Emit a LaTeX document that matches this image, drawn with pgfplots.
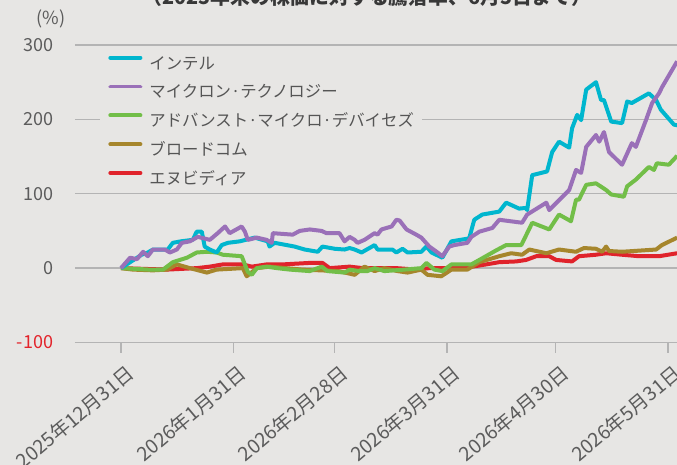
\documentclass[border=0pt]{standalone}
\usepackage{fontspec}
\setmainfont{Noto Sans CJK JP}
\usepackage{pgfplots}
\pgfplotsset{compat=1.18}
\definecolor{bg}{HTML}{E7E6E4}
\definecolor{gridc}{HTML}{B4B4B4}
\definecolor{labgray}{HTML}{5C5C5C}
\definecolor{leggray}{HTML}{555555}
\definecolor{negred}{HTML}{E3242B}
\definecolor{cIntel}{HTML}{00B6CE}
\definecolor{cMicron}{HTML}{9A70B8}
\definecolor{cAMD}{HTML}{72BE48}
\definecolor{cAvgo}{HTML}{A6862C}
\definecolor{cNvda}{HTML}{E0232B}
\begin{document}
\begin{tikzpicture}
\useasboundingbox[fill=bg] (-37.5pt,-61.25pt) rectangle (301pt,171.25pt);
\node[anchor=base, font=\fontsize{9.9}{11}\selectfont\bfseries, text=black!78, inner sep=0pt] at (146pt,169pt) {（2025年末の株価に対する騰落率、6月5日まで）};
\node[font=\fontsize{9}{10}\selectfont, text=labgray, inner sep=0pt] at (-12pt,161.75pt) {(\%)};
\begin{axis}[
  at={(0,0)}, anchor=south west, scale only axis,
  width=301pt, height=148.75pt,
  xmin=-12.7, xmax=153.46, ymin=-100, ymax=300,
  axis lines*=left,
  y axis line style={draw=none},
  x axis line style={draw=gridc, line width=0.7pt},
  ymajorgrids, grid style={gridc, line width=0.7pt},
  ytick={-100,0,100,200,300},
  yticklabels={\textcolor{negred}{-100},0,100,200,300},
  ytick style={draw=none},
  xtick={0,31,59,90,120,151},
  xticklabels={2025年12月31日,2026年1月31日,2026年2月28日,2026年3月31日,2026年4月30日,2026年5月31日},
  xtick style={draw=gridc, line width=0.7pt},
  tick align=outside, major tick length=5.25pt,
  yticklabel style={font=\fontsize{9}{10}\selectfont, text=labgray, inner sep=0pt, anchor=east, xshift=-5.5pt},
  xticklabel style={font=\fontsize{9.8}{11}\selectfont, text=labgray, inner sep=0pt, xshift=2pt, yshift=-5pt, rotate=40, anchor=north east},
  legend style={at={(0.0415,0.985)}, anchor=north west, draw=none, fill=bg,
    inner xsep=4pt, inner ysep=3pt, font=\fontsize{8.2}{9}\selectfont, text=leggray,
    row sep=6.25pt, column sep=3.5pt,
    nodes={inner sep=0pt, text height=6.5pt, text depth=1.5pt}},
  legend cell align=left,
  legend image code/.code={\draw[#1, line width=1.9pt, line cap=round] (0.95pt,3.2pt) -- (16.05pt,3.2pt);},
  every axis plot/.append style={line width=2pt, line join=round},
]
\addlegendimage{cIntel}\addlegendentry{インテル}
\addlegendimage{cMicron}\addlegendentry{マイクロン·テクノロジー}
\addlegendimage{cAMD}\addlegendentry{アドバンスト·マイクロ·デバイセズ}
\addlegendimage{cAvgo}\addlegendentry{ブロードコム}
\addlegendimage{cNvda}\addlegendentry{エヌビディア}
% Nvidia
\addplot[cNvda, forget plot] coordinates {(0,0)(12.7,-2)(20.9,0)(24.5,2)(28.1,5)(33.6,5)(36.1,2)(40.2,5)(44.6,5)(52.1,7)(55.6,7)(57.6,0)(63.1,2)(66.7,0)(76,0)(81.5,-2)(85.1,0)(92.6,0)(97,2)(100.8,5)(104.4,8)(109.1,9)(111.8,11)(114.6,16)(118.2,16)(120.1,11)(124.5,9)(126.4,16)(131.1,18)(133.9,20)(138.3,18)(143,16)(148.5,16)(153.5,20)};
% Broadcom
\addplot[cAvgo, forget plot] coordinates {(0,0)(3.3,-2)(8.8,-3)(12.7,-2)(15.4,5)(19,0)(23.7,-6)(26.4,-2)(33.6,0)(34.7,-11)(37.5,0)(41,2)(50,-2)(60,-4)(64.5,-9)(67.2,2)(70,-4)(72.7,0)(76.3,-4)(79.1,-6)(82.9,-2)(84.6,-9)(88.4,-11)(91.2,-2)(95.6,-2)(98.9,8)(104.4,16)(107.7,20)(110.7,18)(112.7,25)(117.4,20)(120.9,25)(125.6,22)(127.8,27)(131.1,26)(132.8,22)(133.9,29)(134.7,23)(138.3,22)(147.7,25)(149.3,31)(153.5,41)};
% AMD
\addplot[cAMD, forget plot] coordinates {(0,0)(8,-2)(11.6,-2)(14.3,8)(18.2,14)(20.9,21)(23.7,22)(26.4,21)(28.1,18)(33.3,16)(35,-5)(36.1,-9)(37.5,0)(40.2,2)(43,0)(46.6,-2)(52.1,-4)(55.4,2)(57,-4)(61.7,-6)(63.1,-2)(65.8,-4)(68,-4)(70,0)(72.7,-4)(78.2,-2)(82.9,0)(84.3,7)(86.5,-2)(88.7,-4)(91.2,5)(96.7,5)(98.9,11)(103.6,24)(106.3,31)(110.5,31)(113.5,61)(118.2,52)(120.9,72)(124.2,63)(125.6,92)(126.4,92)(128.4,112)(131.1,114)(133.9,105)(135.3,99)(138.8,96)(139.7,110)(142.1,119)(145.7,136)(147.1,132)(147.9,141)(151.2,139)(153.5,151)};
% Intel
\addplot[cIntel, forget plot] coordinates {(0,0)(5.7,18)(7.4,21)(8.8,25)(12.9,25)(14.3,34)(16.5,36)(19.8,38)(20.9,49)(22.3,49)(23.1,29)(24.5,25)(26.4,21)(27.8,31)(29.5,34)(32.8,36)(36.9,41)(40.5,36)(41,29)(42.4,34)(47.9,29)(50.7,25)(54.3,22)(55.6,29)(59,26)(61.7,25)(63.1,27)(64.5,25)(66.4,21)(70,31)(70.8,25)(74.9,25)(76,21)(77.7,26)(79.1,21)(82.9,22)(84.3,29)(85.7,21)(88.7,14)(91.2,36)(96.1,40)(97.5,65)(99.7,72)(104.4,76)(106.3,88)(109.9,80)(111.8,81)(112.1,78)(113.5,125)(117.6,130)(119,156)(120.9,170)(123.7,162)(124.5,188)(125.9,206)(127,199)(128.4,240)(131.1,250)(132.5,226)(133.3,226)(135.3,197)(138.3,195)(139.7,224)(141,222)(145.7,235)(147.7,226)(149,213)(152.6,193)(153.5,192)};
% Micron
\addplot[cMicron, forget plot] coordinates {(0,0)(2.5,14)(4.4,12)(6.1,22)(7.4,16)(8.8,25)(12.1,25)(13.5,21)(15.4,25)(16.8,34)(19,36)(21.2,42)(24.5,38)(26.7,47)(28.7,56)(30,47)(33.3,56)(34.2,49)(35,38)(37.5,41)(40.2,38)(41.6,34)(41.9,47)(47.4,45)(49.3,50)(52.1,52)(55.4,50)(56.7,47)(60.3,47)(61.7,36)(63.1,42)(64.5,38)(65.3,34)(67.2,38)(70,47)(70.8,45)(71.9,52)(74.7,56)(76,65)(76.9,64)(78.8,52)(81.5,45)(82.9,41)(85.1,29)(87.1,22)(88.7,16)(90.6,29)(92,31)(95.6,34)(96.7,42)(98.9,49)(102.5,54)(104.4,65)(110.7,61)(112.1,72)(117.4,88)(118.2,78)(119.6,85)(123.7,105)(125.6,132)(127,128)(128.4,163)(131.1,179)(132,170)(133.3,183)(134.7,156)(138.3,139)(141,168)(142.1,163)(144.9,199)(146.6,222)(148.5,235)(149.3,243)(153.5,278)};
\end{axis}
\end{tikzpicture}
\end{document}
